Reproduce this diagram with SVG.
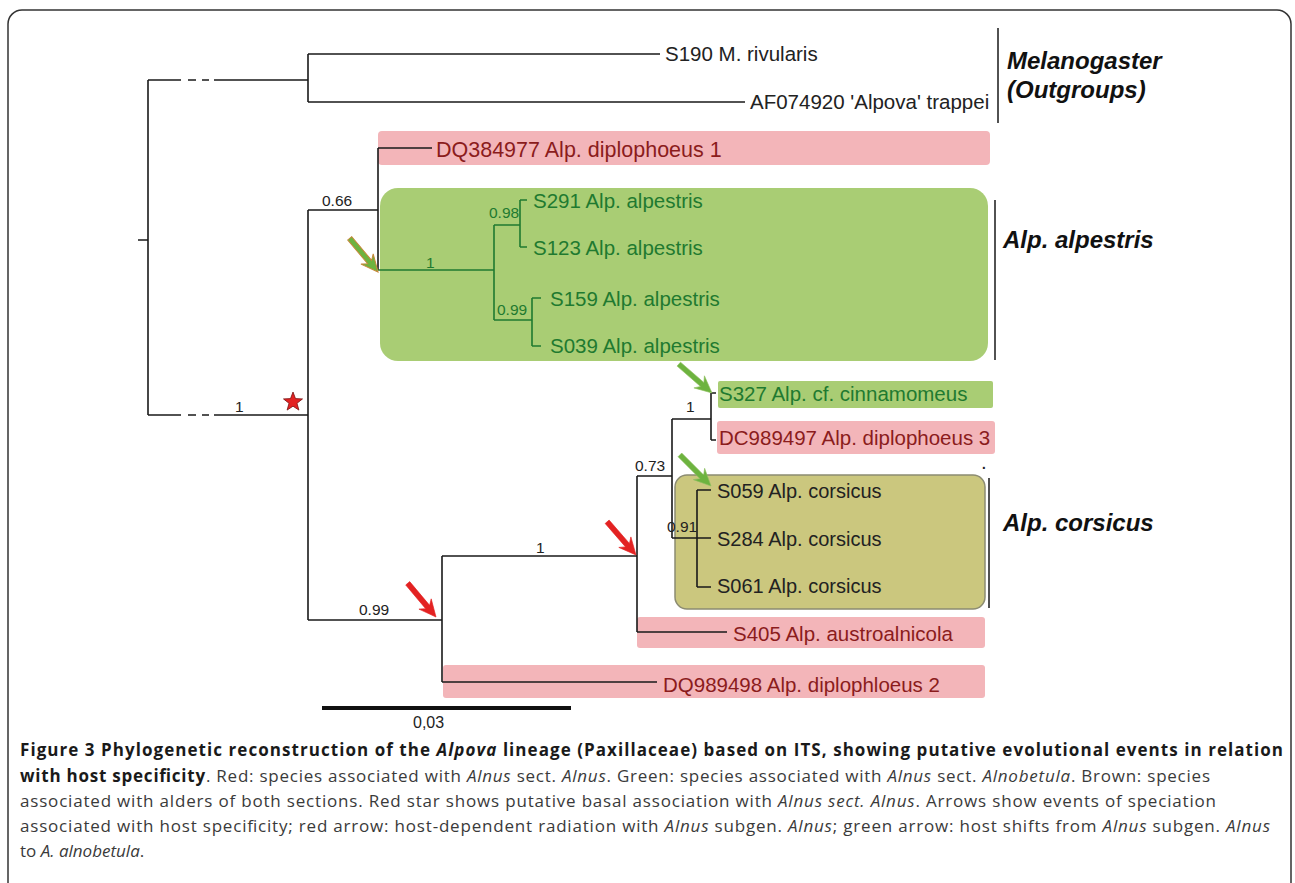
<svg xmlns="http://www.w3.org/2000/svg" xmlns:xlink="http://www.w3.org/1999/xlink" width="1295" height="883" viewBox="0 0 1295 883">
<style>
.t{font-family:"Liberation Sans",Arial,sans-serif;font-size:20.5px}
.s{font-family:"Liberation Sans",Arial,sans-serif;font-size:15.5px}
.g{font-family:"Liberation Sans",Arial,sans-serif;font-size:24px;font-weight:bold;font-style:italic;fill:#111}
.red{fill:#8b1c1c}
.grn{fill:#1f7a30}
.blk{fill:#222}
.pink{fill:#f3b5b9}
.br{fill:none;stroke:#1a1a1a;stroke-width:1.6}
.brg{fill:none;stroke:#1f7a30;stroke-width:1.6}
.bar{fill:none;stroke:#1a1a1a;stroke-width:1.5}
.cap{font-family:"Open Sans","Liberation Sans",sans-serif;font-size:17px;fill:#3a3a3a}
.capb{font-weight:bold;fill:#1a1a1a}
.i{font-style:italic}
</style>
<defs>
<polygon id="arr" points="0,0 -17,-8 -13,-2.6 -44,-2.6 -44,2.6 -13,2.6 -17,8"/>
</defs>
<rect x="8" y="10" width="1283" height="900" rx="14" fill="#fff" stroke="#333" stroke-width="1.5"/>

<g id="boxes">
<rect id="box-dq384977" class="pink" x="378" y="131" width="612" height="34" rx="4"/>
<rect id="box-alpestris" x="380" y="188" width="608" height="173" rx="18" fill="#a9cd74"/>
<rect id="box-s327" x="718" y="381" width="275" height="27" rx="2" fill="#a9cd74"/>
<rect id="box-dc989497" class="pink" x="717" y="421" width="278" height="33" rx="3"/>
<rect id="box-corsicus" x="675" y="475" width="310" height="134" rx="12" fill="#cbc77e" stroke="#8c8c72" stroke-width="1.5"/>
<rect id="box-s405" class="pink" x="637" y="617" width="348" height="31" rx="3"/>
<rect id="box-dq989498" class="pink" x="443" y="665" width="542" height="33" rx="3"/>
</g>

<g id="connectors">
<path class="br" d="M138 240H148M148 80V415"/>
<path class="br" d="M148 80H181M188 80H196M202 80H209M214 80H308"/>
<path class="br" d="M148 415H181M188 415H196M202 415H209M214 415H308"/>
<path class="br" d="M308 54V102M308 54H660M308 102H745"/>
<path class="br" d="M308 210H378M308 210V620"/>
<path class="br" d="M378 148V270M378 148H432"/>
<path class="brg" d="M378 270H494M494 225V320M494 225H520M520 200V247M520 200H527M520 247H527M494 320H532M532 298V346M532 298H541M532 346H541"/>
<path class="br" d="M308 620H442M442 556V682M442 556H637M442 682H657"/>
<path class="br" d="M637 476V632M637 476H672M637 632H727"/>
<path class="br" d="M672 419V538M672 419H711M711 393V440M711 393H716M711 440H716"/>
<path class="br" d="M672 538H697M697 490V587M697 490H711M697 538H711M697 587H711"/>
<path class="bar" d="M998 28V123M995 200V360M989 478V608"/>
<path d="M322 708H571" stroke="#111" stroke-width="4"/>
</g>

<g id="markers">
<use xlink:href="#arr" href="#arr" transform="translate(378,272) rotate(50)" fill="#6db33f" stroke="#c8883a" stroke-width="1"/>
<use xlink:href="#arr" href="#arr" transform="translate(712,393) rotate(41)" fill="#6db33f" stroke="#8fc060" stroke-width="0.6"/>
<use xlink:href="#arr" href="#arr" transform="translate(711,486) rotate(45)" fill="#6db33f" stroke="#8fc060" stroke-width="0.6"/>
<use xlink:href="#arr" href="#arr" transform="translate(436,617) rotate(50)" fill="#e32222" stroke="#e32222" stroke-width="0.6"/>
<use xlink:href="#arr" href="#arr" transform="translate(636,555) rotate(49)" fill="#e32222" stroke="#e32222" stroke-width="0.6"/>
<polygon id="star" transform="translate(293,402)" points="0,-10 2.47,-3.4 9.51,-3.09 3.99,1.3 5.88,8.09 0,4.2 -5.88,8.09 -3.99,1.3 -9.51,-3.09 -2.47,-3.4" fill="#e32222" stroke="#7a1010" stroke-width="0.8"/>
</g>

<g id="node-s190"><text class="t blk" x="665" y="61">S190 M. rivularis</text></g>
<g id="node-af074920"><text class="t blk" x="750" y="109">AF074920 'Alpova' trappei</text></g>
<g id="group-melanogaster"><text class="g" x="1007" y="69">Melanogaster</text><text class="g" x="1007" y="98">(Outgroups)</text></g>
<g id="node-dq384977"><text class="t red" x="436" y="157" style="font-size:21.5px">DQ384977 Alp. diplophoeus 1</text></g>
<g id="node-s291"><text class="t grn" x="533" y="208">S291 Alp. alpestris</text></g>
<g id="node-s123"><text class="t grn" x="533" y="255">S123 Alp. alpestris</text></g>
<g id="node-s159"><text class="t grn" x="550" y="306">S159 Alp. alpestris</text></g>
<g id="node-s039"><text class="t grn" x="550" y="353">S039 Alp. alpestris</text></g>
<g id="group-alpestris"><text class="g" x="1003" y="248">Alp. alpestris</text></g>
<g id="node-s327"><text class="t grn" x="719" y="401">S327 Alp. cf. cinnamomeus</text></g>
<g id="node-dc989497"><text class="t red" x="719" y="445">DC989497 Alp. diplophoeus 3</text></g>
<g id="node-s059"><text class="t blk" x="717" y="498" style="font-size:20px">S059 Alp. corsicus</text></g>
<g id="node-s284"><text class="t blk" x="717" y="546" style="font-size:20px">S284 Alp. corsicus</text></g>
<g id="node-s061"><text class="t blk" x="717" y="593" style="font-size:20px">S061 Alp. corsicus</text></g>
<g id="group-corsicus"><text class="g" x="1003" y="531">Alp. corsicus</text><text class="t blk" x="981" y="469">.</text></g>
<g id="node-s405"><text class="t red" x="733" y="641">S405 Alp. austroalnicola</text></g>
<g id="node-dq989498"><text class="t red" x="663" y="692">DQ989498 Alp. diplophloeus 2</text></g>

<g id="support">
<text class="s blk" x="322" y="206">0.66</text>
<text class="s blk" x="235" y="412">1</text>
<text class="s grn" x="489" y="218">0.98</text>
<text class="s grn" x="426" y="268">1</text>
<text class="s grn" x="497" y="315">0.99</text>
<text class="s blk" x="686" y="412">1</text>
<text class="s blk" x="635" y="471">0.73</text>
<text class="s blk" x="667" y="532">0.91</text>
<text class="s blk" x="536" y="553">1</text>
<text class="s blk" x="359" y="615">0.99</text>
<text class="s blk" x="413" y="728" style="font-size:16px">0,03</text>
</g>

<g id="caption">
<text class="cap" x="20" y="756" textLength="1263" lengthAdjust="spacing"><tspan class="capb">Figure 3 Phylogenetic reconstruction of the </tspan><tspan class="capb i">Alpova</tspan><tspan class="capb"> lineage (Paxillaceae) based on ITS, showing putative evolutional events in relation</tspan></text>
<text class="cap" x="20" y="782" textLength="1190" lengthAdjust="spacing"><tspan class="capb">with host specificity</tspan>. Red: species associated with <tspan class="i">Alnus</tspan> sect. <tspan class="i">Alnus</tspan>. Green: species associated with <tspan class="i">Alnus</tspan> sect. <tspan class="i">Alnobetula</tspan>. Brown: species</text>
<text class="cap" x="20" y="807" textLength="1196" lengthAdjust="spacing">associated with alders of both sections. Red star shows putative basal association with <tspan class="i">Alnus sect. Alnus</tspan>. Arrows show events of speciation</text>
<text class="cap" x="20" y="832" textLength="1250" lengthAdjust="spacing">associated with host specificity; red arrow: host-dependent radiation with <tspan class="i">Alnus</tspan> subgen. <tspan class="i">Alnus</tspan>; green arrow: host shifts from <tspan class="i">Alnus</tspan> subgen. <tspan class="i">Alnus</tspan></text>
<text class="cap" x="20" y="857">to <tspan class="i">A. alnobetula</tspan>.</text>
</g>
</svg>
